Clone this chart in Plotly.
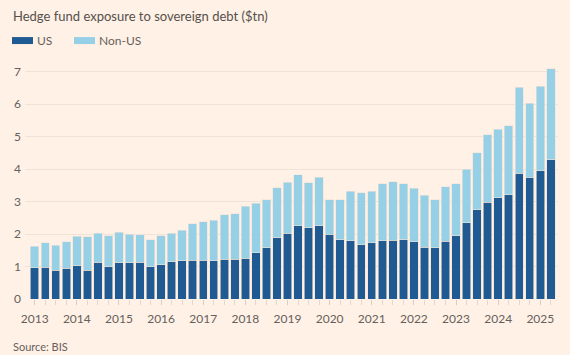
import plotly.graph_objects as go

years = list(range(2013, 2026))
quarters = [y + q / 4 for y in range(2013, 2026) for q in range(4)][:50]

us = [0.96, 0.98, 0.89, 0.94, 1.02, 0.89, 1.13, 1.00, 1.11, 1.11,
      1.13, 1.00, 1.06, 1.15, 1.18, 1.19, 1.20, 1.18, 1.23, 1.23,
      1.26, 1.42, 1.58, 1.89, 2.02, 2.25, 2.19, 2.25, 1.99, 1.83,
      1.80, 1.67, 1.73, 1.79, 1.81, 1.83, 1.76, 1.60, 1.57, 1.77,
      1.94, 2.34, 2.74, 2.98, 3.11, 3.21, 3.87, 3.74, 3.95, 4.29]
total = [1.63, 1.73, 1.66, 1.76, 1.93, 1.92, 2.02, 1.94, 2.06, 2.00,
         1.98, 1.83, 1.94, 2.02, 2.12, 2.31, 2.38, 2.42, 2.59, 2.62,
         2.85, 2.94, 3.05, 3.42, 3.60, 3.82, 3.58, 3.74, 3.05, 3.06,
         3.31, 3.27, 3.32, 3.54, 3.61, 3.55, 3.41, 3.19, 3.06, 3.45,
         3.55, 3.99, 4.50, 5.05, 5.23, 5.33, 6.52, 6.02, 6.54, 7.09]
non_us = [round(t - u, 2) for t, u in zip(total, us)]

y_ticks = [0, 1, 2, 3, 4, 5, 6, 7]

BG = "#FFF1E5"
US_COL = "#205a92"
NONUS_COL = "#96d0e7"
TXT = "#66605c"

fig = go.Figure()
fig.add_trace(go.Bar(x=quarters, y=us, name="US", marker=dict(color=US_COL, line=dict(color="#f3e3d6", width=0.6))))
fig.add_trace(go.Bar(x=quarters, y=non_us, name="Non-US", marker=dict(color=NONUS_COL, line=dict(color="#f3e3d6", width=0.6))))

L, R, T, B = 25, 12, 64.5, 56
W, H = 570, 355
pw = W - L - R
ph = H - T - B

def px2x(p):
    return (p - L) / pw

def py2y(p):
    return (H - B - p) / ph

fig.update_layout(
    barmode="stack",
    bargap=0.2,
    width=W, height=H,
    margin=dict(l=L, r=R, t=T, b=B, pad=0),
    paper_bgcolor=BG, plot_bgcolor=BG,
    showlegend=False,
    font=dict(family="Lato, 'Noto Sans', sans-serif", color=TXT, size=12),
    xaxis=dict(
        range=[2012.77, 2025.42],
        tickvals=years, ticktext=[str(y) for y in years],
        ticks="outside", ticklen=5, tickcolor="#d9ccc1", tickwidth=1,
        minor=dict(dtick=0.25, tick0=2013, ticks="outside", ticklen=5, tickcolor="#e3d6cb", showgrid=False),
        showgrid=False, zeroline=False, showline=False,
        tickfont=dict(size=12, color=TXT),
        ticklabelstandoff=4,
    ),
    yaxis=dict(
        range=[0, 7.2],
        tickvals=y_ticks,
        showgrid=True, gridcolor="#efe2d6", gridwidth=1,
        zeroline=False, showline=False,
        tickfont=dict(size=12, color=TXT),
        ticks="", ticklabelstandoff=3,
    ),
)

fig.add_annotation(text="Hedge fund exposure to sovereign debt ($tn)", xref="paper", yref="paper",
                   x=px2x(11), y=py2y(15), xanchor="left", yanchor="middle", showarrow=False,
                   font=dict(size=13, color="#55504c"))

# legend swatches
fig.add_shape(type="rect", xref="paper", yref="paper",
              x0=px2x(12), x1=px2x(33), y0=py2y(43.5), y1=py2y(36.5),
              fillcolor=US_COL, line=dict(width=0))
fig.add_annotation(text="US", xref="paper", yref="paper", x=px2x(35), y=py2y(40),
                   xanchor="left", yanchor="middle", showarrow=False, font=dict(size=12, color=TXT))
fig.add_shape(type="rect", xref="paper", yref="paper",
              x0=px2x(74), x1=px2x(95), y0=py2y(43.5), y1=py2y(36.5),
              fillcolor=NONUS_COL, line=dict(width=0))
fig.add_annotation(text="Non-US", xref="paper", yref="paper", x=px2x(97), y=py2y(40),
                   xanchor="left", yanchor="middle", showarrow=False, font=dict(size=12, color=TXT))

fig.add_annotation(text="Source: BIS", xref="paper", yref="paper", x=px2x(11), y=py2y(347),
                   xanchor="left", yanchor="middle", showarrow=False, font=dict(size=11, color=TXT))

fig.write_html("out.html", config={"displayModeBar": False, "staticPlot": True})

# remove default browser body margin so the figure sits at the page's top-left corner
with open("out.html", "r", encoding="utf-8") as f:
    html = f.read()
html = html.replace("<head>", "<head><style>html,body{margin:0;padding:0;background:#FFF1E5;overflow:hidden;}</style>", 1)
with open("out.html", "w", encoding="utf-8") as f:
    f.write(html)
